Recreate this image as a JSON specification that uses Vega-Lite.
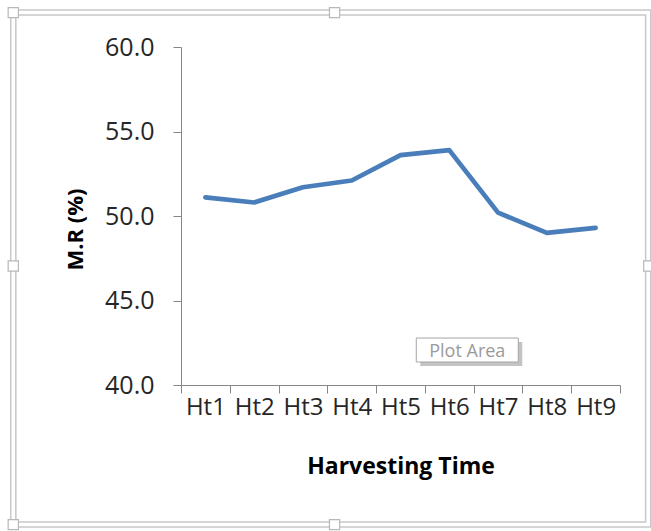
{
  "$schema": "https://vega.github.io/schema/vega-lite/v6.json",
  "autosize": "none",
  "width": 439,
  "height": 338,
  "padding": {"left": 181, "top": 47, "right": 31, "bottom": 146},
  "background": "white",
  "config": {
    "view": {"stroke": null},
    "font": "Open Sans"
  },
  "data": {
    "values": [
      {"time": "Ht1", "mr": 51.1},
      {"time": "Ht2", "mr": 50.8},
      {"time": "Ht3", "mr": 51.7},
      {"time": "Ht4", "mr": 52.1},
      {"time": "Ht5", "mr": 53.6},
      {"time": "Ht6", "mr": 53.9},
      {"time": "Ht7", "mr": 50.2},
      {"time": "Ht8", "mr": 49.0},
      {"time": "Ht9", "mr": 49.3}
    ]
  },
  "encoding": {
    "x": {
      "field": "time",
      "type": "nominal",
      "bandPosition": 0.5,
      "sort": null,
      "scale": {"type": "band", "paddingInner": 0, "paddingOuter": 0},
      "axis": {
        "title": "Harvesting Time",
        "labelAngle": 0,
        "labelFontSize": 24,
        "labelColor": "#262626",
        "labelPadding": 2,
        "tickBand": "extent",
        "tickSize": 8,
        "tickColor": "#868686",
        "domainColor": "#868686",
        "titleFontSize": 23,
        "titleFontWeight": "bold",
        "titleColor": "#000000",
        "titleBaseline": "alphabetic",
        "titleY": 88
      }
    },
    "y": {
      "field": "mr",
      "type": "quantitative",
      "scale": {"domain": [40, 60], "zero": false, "nice": false},
      "axis": {
        "title": "M.R (%)",
        "values": [40, 45, 50, 55, 60],
        "format": ".1f",
        "grid": false,
        "labelFontSize": 25,
        "labelColor": "#262626",
        "labelPadding": 19,
        "tickSize": 8,
        "tickColor": "#868686",
        "domainColor": "#868686",
        "titleFontSize": 22,
        "titleFontWeight": "bold",
        "titleColor": "#000000",
        "titleBaseline": "alphabetic",
        "titleAlign": "center",
        "titleX": -99,
        "titleY": 182
      }
    }
  },
  "layer": [
    {
      "mark": {"type": "line", "color": "#4A7EBB", "strokeWidth": 4.7, "strokeJoin": "round", "strokeCap": "round"}
    },
    {
      "data": {"values": [{"time": "Ht6", "mr": 42.07, "label": "Plot Area"}]},
      "layer": [
        {
          "mark": {
            "type": "point",
            "shape": "M-1,-0.235L1,-0.235L1,0.235L-1,0.235Z",
            "filled": true,
            "fill": "#b4b4b4",
            "opacity": 0.8,
            "strokeWidth": 0,
            "size": 10404,
            "xOffset": 22,
            "yOffset": 4
          }
        },
        {
          "mark": {
            "type": "point",
            "shape": "M-1,-0.235L1,-0.235L1,0.235L-1,0.235Z",
            "filled": true,
            "fill": "white",
            "stroke": "#a6a6a6",
            "strokeWidth": 1,
            "opacity": 1,
            "size": 10404,
            "xOffset": 18
          }
        },
        {
          "mark": {"type": "text", "dx": 18, "dy": 2, "fontSize": 18, "color": "#9a9a9a", "baseline": "middle", "align": "center"},
          "encoding": {"text": {"field": "label"}}
        }
      ]
    },
    {
      "data": {"values": [{"time": "Ht4", "mr": 46.89}]},
      "layer": [
        {
          "mark": {
            "type": "point",
            "shape": "M-1,-0.8078L1,-0.8078L1,0.8078L-1,0.8078Z M-0.984,-0.792L0.984,-0.792L0.984,0.792L-0.984,0.792Z",
            "filled": false,
            "stroke": "#c8c8c8",
            "strokeWidth": 1.5,
            "opacity": 1,
            "size": 409600,
            "xOffset": -21,
            "clip": false
          }
        },
        {
          "mark": {
            "type": "point",
            "shape": "M-1.008,-0.8156L-0.976,-0.8156L-0.976,-0.7844L-1.008,-0.7844Z M-0.004,-0.8156L0.028,-0.8156L0.028,-0.7844L-0.004,-0.7844Z M-1.008,-0.024L-0.976,-0.024L-0.976,0.008L-1.008,0.008Z M0.978,-0.024L1.01,-0.024L1.01,0.008L0.978,0.008Z M-1.008,0.7844L-0.976,0.7844L-0.976,0.8156L-1.008,0.8156Z M-0.004,0.7844L0.028,0.7844L0.028,0.8156L-0.004,0.8156Z",
            "filled": true,
            "fill": "white",
            "stroke": "#b8b8b8",
            "strokeWidth": 1.2,
            "opacity": 1,
            "size": 409600,
            "xOffset": -21,
            "clip": false
          }
        }
      ]
    }
  ]
}
